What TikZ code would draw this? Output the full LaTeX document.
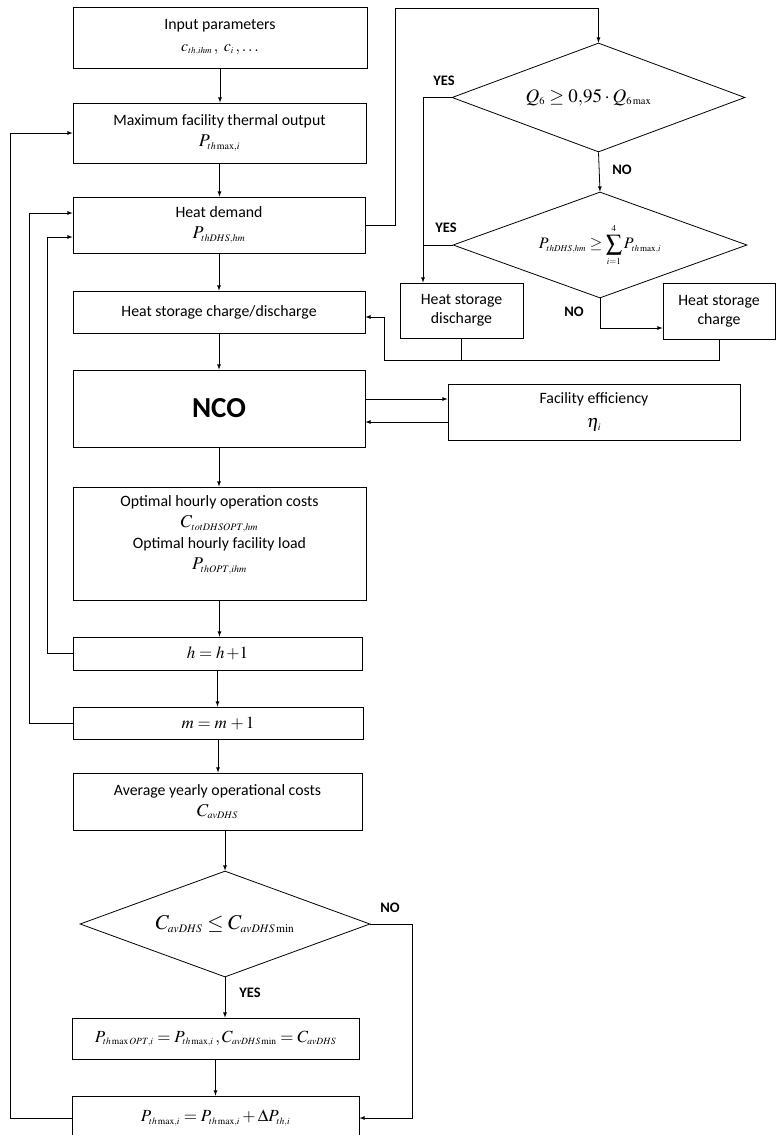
\documentclass[tikz,border=0pt]{standalone}
\usepackage{mathptmx}
\usepackage[no-math]{fontspec}
\setmainfont{Carlito}
\usetikzlibrary{arrows,shapes}
\DeclareMathSizes{16}{16}{9}{7}
\DeclareMathSizes{17}{17}{9.5}{7}
\DeclareMathSizes{18}{18}{10}{7.5}
\DeclareMathSizes{19}{19}{10.5}{8}
\DeclareMathSizes{21}{21}{11.5}{8.5}
\newcommand{\fm}[2][18]{{\fontsize{#1}{#1}\selectfont$#2$}}
\tikzset{
    block/.style={draw=black, rectangle, align=center, inner sep=0pt,
        font=\fontsize{15.8}{19}\selectfont},
    decision/.style={draw=black, diamond, aspect=2.7, inner sep=0pt, align=center},
    answer/.style={font=\bfseries\fontsize{14.5}{17}\selectfont},
    link/.style={draw=black},
    arrow/.style={draw=black, ->, >=latex},
}

\begin{document}
\begin{tikzpicture}[x=1pt, y=-1pt, line width=0.8pt]
\useasboundingbox (0,0) rectangle (776,1135);
	% main column
	\node[block, minimum width=294, minimum height=61] (input) at (220,37.5)
		{Input parameters\\[3pt] \fm[16]{c_{th,ihm}\,,\ c_i\,,\ldots}};
	\node[block, minimum width=293, minimum height=60] (thout) at (219.5,133)
		{Maximum facility thermal output\\[2pt] \fm{P_{th\max,i}}};
	\node[block, minimum width=292, minimum height=56] (demand) at (219,225)
		{Heat demand\\[2pt] \fm{P_{thDHS,hm}}};
	\node[block, minimum width=292, minimum height=42] (storage) at (219,312)
		{Heat storage charge/discharge};
	\node[block, minimum width=292, minimum height=77,
		font=\bfseries\fontsize{29}{32}\selectfont] (nco) at (219,408.5) {NCO};
	\node[block, minimum width=292, minimum height=56] (eff) at (594,412)
		{Facility efficiency\\[5pt] \fm{\eta_i}};
	\node[block, minimum width=293, minimum height=113] (opt) at (219.5,543.5)
		{Optimal hourly operation costs\\[2pt] \fm{C_{totDHSOPT,hm}}\\[2pt]
		 Optimal hourly facility load\\[2pt] \fm{P_{thOPT,ihm}}\\[2pt]};
	\node[block, minimum width=289, minimum height=33] (hinc) at (217.5,653.5)
		{\fm[17]{h\;{=}\;h\,{+}1}};
	\node[block, minimum width=290, minimum height=32] (minc) at (218,723)
		{\fm[17]{m\;{=}\;m\;{+}\,1}};
	\node[block, minimum width=289, minimum height=57] (avg) at (217.5,801.5)
		{Average yearly operational costs\\[2pt] \fm{C_{avDHS}}};
	\node[decision, minimum width=290, minimum height=106] (check) at (225,924)
		{\fm[21]{C_{avDHS}\le C_{avDHS\min}}};
	\node[block, minimum width=287, minimum height=41] (best) at (215.5,1038.5)
		{\fm[17]{P_{th\max OPT,i}=P_{th\max,i}\,, C_{avDHS\min}=C_{avDHS}}};
	\node[block, minimum width=287, minimum height=44] (update) at (215.5,1118)
		{\fm[17]{P_{th\max,i}=P_{th\max,i}+\Delta P_{th,i}}};
	% heat storage decisions
	\node[decision, minimum width=293, minimum height=109] (q6) at (598.5,97.5)
		{\fm[19]{Q_6\ge 0{,}95\cdot Q_{6\max}}\hspace{20pt}};
	\node[decision, minimum width=294, minimum height=106] (sum) at (600,245)
		{\fm[16]{P_{thDHS,hm}\ge\displaystyle\sum_{i=1}^{4}P_{th\max,i}}};
	\node[block, minimum width=123, minimum height=55] (discharge) at (461.5,310.5)
		{Heat storage\\ discharge};
	\node[block, minimum width=112, minimum height=56] (charge) at (719,311)
		{Heat storage\\ charge};
	\coordinate (topturn) at (395,8);
	\coordinate (yesline) at ([xshift=-38.5pt]discharge.north);
	\coordinate (ret) at (384,360);
	% labels
	\node[answer] (yes1) at (444,81) {YES};
	\node[answer] (no1) at (622,170) {NO};
	\node[answer] (yes2) at (446,228) {YES};
	\node[answer] (no2) at (574,312) {NO};
	\node[answer] (no3) at (390,908) {NO};
	\node[answer] (yes3) at (250,993) {YES};
	% connectors
	\draw[arrow] (input.south) -- (input.south |- thout.north);
	\draw[arrow] (thout.south) -- (thout.south |- demand.north);
	\draw[arrow] (demand.south) -- (demand.south |- storage.north);
	\draw[arrow] (storage.south) -- (storage.south |- nco.north);
	\draw[arrow] (nco.south) -- (nco.south |- opt.north);
	\draw[arrow] (opt.south) -- (opt.south |- hinc.north);
	\draw[arrow] (hinc.south) -- (hinc.south |- minc.north);
	\draw[arrow] (minc.south) -- (minc.south |- avg.north);
	\draw[arrow] (check.north |- avg.south) -- (check.north);
	\draw[arrow] (check.south) -- (check.south |- best.north);
	\draw[arrow] (best.south) -- (best.south |- update.north);
	\draw[arrow] ([yshift=9.5pt]nco.east) -- ([yshift=13pt]eff.west);
	\draw[arrow] ([yshift=-10pt]eff.west) -- ([yshift=-13.5pt]nco.east);
	\draw[arrow] (demand.east) -| (topturn) -| (q6.north);
	\draw[arrow] (q6.west) -| (yesline);
	\draw[link] (sum.west) -- (yesline |- sum.west);
	\draw[arrow] (q6.south) -- (sum.north);
	\draw[arrow] (sum.south) |- ([yshift=-17pt]charge.west);
	\draw[link] (discharge.south) |- (ret);
	\draw[arrow] (charge.south) |- (ret) |- ([yshift=-5pt]storage.east);
	\draw[arrow] (hinc.west) -- ++(-25,0) |- ([yshift=-12pt]demand.west);
	\draw[arrow] (minc.west) -- ++(-43,0) |- ([yshift=12pt]demand.west);
	\draw[arrow] (update.west) -- ++(-61,0) |- (thout.west);
	\draw[arrow] (check.east) -- ++(42,0) |- (update.east);
\end{tikzpicture}
\end{document}
